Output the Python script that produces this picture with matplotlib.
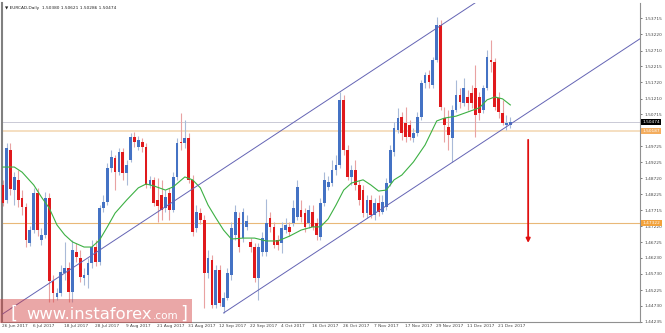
import numpy as np
import matplotlib
matplotlib.use('Agg')
import matplotlib.pyplot as plt
import matplotlib.transforms as mtransforms
from matplotlib.patches import Rectangle

# EURCAD daily candles, 26 Jun 2017 .. late Dec 2017
opens = [1.4851, 1.4804, 1.4960, 1.4835, 1.4867, 1.4810, 1.4782, 1.4670, 1.4710, 1.4826,
         1.4679, 1.4695, 1.4810, 1.4551, 1.4501, 1.4513, 1.4576, 1.4592, 1.4516, 1.4641,
         1.4623, 1.4560, 1.4570, 1.4607, 1.4657, 1.4610, 1.4779, 1.4798, 1.4904, 1.4935,
         1.4891, 1.4954, 1.4888, 1.4929, 1.5001, 1.4970, 1.4985, 1.4970, 1.4851, 1.4867,
         1.4804, 1.4820, 1.4779, 1.4826, 1.4773, 1.4876, 1.4985, 1.4982, 1.4998, 1.4867,
         1.4717, 1.4763, 1.4742, 1.4576, 1.4617, 1.4476, 1.4585, 1.4470, 1.4498, 1.4570,
         1.4695, 1.4748, 1.4685, 1.4720, 1.4673, 1.4657, 1.4560, 1.4641, 1.4641, 1.4748,
         1.4720, 1.4679, 1.4670, 1.4710, 1.4720, 1.4732, 1.4751, 1.4773, 1.4763, 1.4732,
         1.4766, 1.4732, 1.4688, 1.4795, 1.4845, 1.4857, 1.4898, 1.4913, 1.5117, 1.4960,
         1.4876, 1.4898, 1.4851, 1.4835, 1.4763, 1.4804, 1.4757, 1.4795, 1.4766, 1.4782,
         1.4857, 1.4954, 1.5023, 1.5063, 1.5045, 1.5038, 1.4998, 1.5013, 1.5063, 1.5170,
         1.5195, 1.5163, 1.5241, 1.5351, 1.5060, 1.5032, 1.4998, 1.5085, 1.5132, 1.5107,
         1.5126, 1.5138, 1.5154, 1.5126, 1.5085, 1.5154, 1.5241, 1.5235, 1.5123, 1.5076,
         1.5038, 1.50380]
highs = [1.4867, 1.4982, 1.4982, 1.4891, 1.4898, 1.4835, 1.4795, 1.4723, 1.4842, 1.4842,
         1.4717, 1.4829, 1.4826, 1.4570, 1.4529, 1.4601, 1.4673, 1.4610, 1.4679, 1.4670,
         1.4648, 1.4592, 1.4623, 1.4679, 1.4679, 1.4788, 1.4820, 1.4920, 1.4960, 1.4945,
         1.4967, 1.4967, 1.4929, 1.5013, 1.5016, 1.5004, 1.4998, 1.4982, 1.4879, 1.4876,
         1.4873, 1.4867, 1.4835, 1.4842, 1.4891, 1.4998, 1.5076, 1.5054, 1.5013, 1.4882,
         1.4788, 1.4779, 1.4757, 1.4648, 1.4632, 1.4601, 1.4601, 1.4516, 1.4592, 1.4735,
         1.4788, 1.4766, 1.4779, 1.4757, 1.4685, 1.4670, 1.4670, 1.4704, 1.4807, 1.4766,
         1.4735, 1.4695, 1.4735, 1.4748, 1.4735, 1.4804, 1.4867, 1.4804, 1.4779, 1.4788,
         1.4788, 1.4748, 1.4810, 1.4891, 1.4879, 1.4929, 1.4945, 1.5142, 1.5132, 1.4976,
         1.4913, 1.4929, 1.4867, 1.4851, 1.4820, 1.4820, 1.4810, 1.4820, 1.4820, 1.4873,
         1.4976, 1.5048, 1.5092, 1.5079, 1.5095, 1.5054, 1.5029, 1.5079, 1.5179, 1.5204,
         1.5210, 1.5251, 1.5376, 1.5367, 1.5095, 1.5085, 1.5101, 1.5179, 1.5154, 1.5185,
         1.5148, 1.5163, 1.5226, 1.5142, 1.5163, 1.5273, 1.5304, 1.5248, 1.5142, 1.5117,
         1.5070, 1.50621]
lows = [1.4785, 1.4795, 1.4820, 1.4788, 1.4782, 1.4757, 1.4657, 1.4660, 1.4701, 1.4691,
        1.4663, 1.4685, 1.4485, 1.4485, 1.4492, 1.4504, 1.4554, 1.4485, 1.4485, 1.4610,
        1.4548, 1.4538, 1.4529, 1.4592, 1.4598, 1.4601, 1.4766, 1.4788, 1.4891, 1.4835,
        1.4882, 1.4867, 1.4851, 1.4923, 1.4970, 1.4960, 1.4954, 1.4842, 1.4842, 1.4785,
        1.4735, 1.4742, 1.4766, 1.4742, 1.4766, 1.4867, 1.4960, 1.4967, 1.4857, 1.4691,
        1.4704, 1.4729, 1.4467, 1.4560, 1.4467, 1.4467, 1.4473, 1.4451, 1.4492, 1.4554,
        1.4679, 1.4641, 1.4673, 1.4710, 1.4641, 1.4548, 1.4492, 1.4629, 1.4629, 1.4704,
        1.4654, 1.4648, 1.4638, 1.4701, 1.4691, 1.4723, 1.4742, 1.4735, 1.4704, 1.4717,
        1.4710, 1.4679, 1.4679, 1.4785, 1.4835, 1.4848, 1.4882, 1.4904, 1.4945, 1.4867,
        1.4851, 1.4835, 1.4788, 1.4751, 1.4748, 1.4748, 1.4742, 1.4754, 1.4760, 1.4773,
        1.4848, 1.4942, 1.5013, 1.4992, 1.4985, 1.4992, 1.4985, 1.5004, 1.5054, 1.5154,
        1.5154, 1.5154, 1.5235, 1.5085, 1.4985, 1.4960, 1.4923, 1.5079, 1.5092, 1.5098,
        1.5085, 1.5092, 1.5001, 1.5054, 1.5076, 1.5148, 1.5204, 1.5085, 1.5060, 1.5038,
        1.5023, 1.50286]
closes = [1.4795, 1.4967, 1.4838, 1.4876, 1.4804, 1.4782, 1.4679, 1.4710, 1.4826, 1.4710,
          1.4695, 1.4810, 1.4551, 1.4513, 1.4513, 1.4579, 1.4592, 1.4516, 1.4648, 1.4626,
          1.4563, 1.4570, 1.4607, 1.4657, 1.4610, 1.4779, 1.4798, 1.4904, 1.4938, 1.4891,
          1.4954, 1.4888, 1.4913, 1.5001, 1.4985, 1.4992, 1.4970, 1.4851, 1.4867, 1.4795,
          1.4785, 1.4773, 1.4813, 1.4773, 1.4876, 1.4982, 1.4982, 1.4998, 1.4867, 1.4704,
          1.4766, 1.4742, 1.4576, 1.4623, 1.4476, 1.4585, 1.4482, 1.4498, 1.4576, 1.4717,
          1.4766, 1.4657, 1.4766, 1.4738, 1.4657, 1.4560, 1.4657, 1.4685, 1.4732, 1.4720,
          1.4663, 1.4663, 1.4717, 1.4726, 1.4704, 1.4779, 1.4845, 1.4751, 1.4720, 1.4773,
          1.4720, 1.4695, 1.4795, 1.4867, 1.4860, 1.4898, 1.4913, 1.5117, 1.4960, 1.4876,
          1.4898, 1.4851, 1.4804, 1.4763, 1.4804, 1.4757, 1.4795, 1.4766, 1.4798, 1.4857,
          1.4960, 1.5029, 1.5060, 1.5013, 1.5001, 1.5001, 1.5013, 1.5063, 1.5170, 1.5195,
          1.5173, 1.5241, 1.5351, 1.5095, 1.5038, 1.5007, 1.5085, 1.5132, 1.5110, 1.5154,
          1.5107, 1.5107, 1.5070, 1.5076, 1.5154, 1.5251, 1.5235, 1.5095, 1.5079, 1.5045,
          1.5045, 1.50474]

# green moving average, read at a handful of bars
ma_idx = [0, 3, 5, 8, 10, 12, 14, 16, 18, 21, 23, 25, 27, 29, 32, 35, 37, 39, 42, 44,
          47, 49, 51, 53, 55, 57, 59, 62, 65, 68, 71, 74, 77, 80, 82, 84, 86, 88, 90, 93,
          95, 97, 99, 101, 103, 106, 109, 112, 114, 117, 120, 123, 125, 127, 129, 131]
ma_vals = [1.4907, 1.4907, 1.4891, 1.4851, 1.4813, 1.4779, 1.4726, 1.4695, 1.4673, 1.4657,
           1.4657, 1.4679, 1.4720, 1.4763, 1.4804, 1.4842, 1.4854, 1.4848, 1.4835, 1.4845,
           1.4876, 1.4867, 1.4842, 1.4788, 1.4748, 1.4710, 1.4682, 1.4685, 1.4685, 1.4676,
           1.4676, 1.4691, 1.4710, 1.4720, 1.4720, 1.4745, 1.4788, 1.4835, 1.4857, 1.4867,
           1.4851, 1.4832, 1.4835, 1.4867, 1.4882, 1.4923, 1.4976, 1.5051, 1.5060, 1.5066,
           1.5079, 1.5092, 1.5117, 1.5126, 1.5120, 1.5101]

date_labels = ['26 Jun 2017', '6 Jul 2017', '18 Jul 2017', '28 Jul 2017', '9 Aug 2017',
               '21 Aug 2017', '31 Aug 2017', '12 Sep 2017', '22 Sep 2017', '4 Oct 2017',
               '16 Oct 2017', '26 Oct 2017', '7 Nov 2017', '17 Nov 2017', '29 Nov 2017',
               '11 Dec 2017', '21 Dec 2017']
date_idx = list(range(0, 8 * len(date_labels), 8))

price_ticks = [1.53715, 1.53220, 1.52710, 1.52215, 1.51720, 1.51210, 1.50715, 1.49725,
               1.49225, 1.48720, 1.48225, 1.47715, 1.47220, 1.46725, 1.46230, 1.45730,
               1.45225, 1.44730, 1.44235]

support_level = 1.50187
target_level = 1.47322
last_price = 1.50474

# channel anchor points (bar index, price)
upper_channel = [(0, 1.4448), (112, 1.5341)]
lower_channel = [(57, 1.4451), (170, 1.5352)]

arrow_bar = 135.6
arrow_from = 1.4992
arrow_to = 1.4670

title = u'\u25bc EURCAD,Daily  1.50380 1.50621 1.50286 1.50474'


def main():
    W, H = 665, 333
    fig = plt.figure(figsize=(W / 100, H / 100), dpi=100)
    fig.patch.set_facecolor('white')
    ax = fig.add_axes([2 / W, 11 / H, 638 / W, 319 / H])

    o = np.array(opens)
    h = np.array(highs)
    l = np.array(lows)
    c = np.array(closes)
    x = np.arange(len(o))
    up = c >= o

    # wicks then bodies
    ax.vlines(x[up], l[up], h[up], color='#a9bad8', lw=0.8, zorder=2)
    ax.vlines(x[~up], l[~up], h[~up], color='#e9a2a2', lw=0.8, zorder=2)
    body = np.maximum(np.abs(c - o), 0.00025)
    ax.bar(x[up], body[up], bottom=o[up], width=0.72, color='#4472c4', lw=0, zorder=3)
    ax.bar(x[~up], body[~up], bottom=c[~up], width=0.72, color='#e0191c', lw=0, zorder=3)

    ax.plot(ma_idx, ma_vals, color='#3cb043', lw=0.8, zorder=4)

    # levels
    ax.axhline(support_level, color='#f4dcbc', lw=1.3, zorder=1)
    ax.axhline(target_level, color='#e9b878', lw=0.8, zorder=1)
    ax.axhline(last_price, color='#cacad6', lw=0.7, zorder=1)

    # channel
    ax.axline(upper_channel[0], upper_channel[1], color='#6464b4', lw=0.7, zorder=4)
    ax.plot([p[0] for p in lower_channel], [p[1] for p in lower_channel],
            color='#6464b4', lw=0.7, zorder=4)

    ax.annotate('', xy=(arrow_bar, arrow_to), xytext=(arrow_bar, arrow_from),
                arrowprops=dict(arrowstyle='-|>', color='#e01010', lw=1.3,
                                mutation_scale=6, shrinkA=0, shrinkB=0), zorder=5)

    ax.set_xlim(-0.18, 164.46)
    ax.set_ylim(1.442275, 1.54196)

    # right price scale
    ax.yaxis.tick_right()
    ax.set_yticks(price_ticks)
    ax.set_yticklabels(['%.5f' % v for v in price_ticks])
    ax.tick_params(axis='y', labelsize=3.1, length=1.5, width=0.5, pad=1.5,
                   colors='#444444')
    ax.set_xticks([])

    ax.spines['top'].set_visible(False)
    ax.spines['left'].set_color('#808080')
    ax.spines['left'].set_linewidth(1.5)
    ax.spines['right'].set_color('#909090')
    ax.spines['right'].set_linewidth(0.8)
    ax.spines['bottom'].set_color('#909090')
    ax.spines['bottom'].set_linewidth(0.8)

    tr = mtransforms.blended_transform_factory(ax.transAxes, ax.transData)
    ax.text(1.004, last_price, '%.5f' % last_price, transform=tr, fontsize=3.1,
            color='white', va='center', ha='left', clip_on=False, zorder=6,
            bbox=dict(boxstyle='square,pad=0.25', fc='black', ec='none'))
    for lvl, col in [(support_level, '#f4ad5e'), (target_level, '#f2a23c')]:
        ax.text(1.004, lvl, '%.5f' % lvl, transform=tr, fontsize=3.1,
                color='white', va='center', ha='left', clip_on=False, zorder=6,
                bbox=dict(boxstyle='square,pad=0.25', fc=col, ec='none'))

    # date labels under the chart
    trx = mtransforms.blended_transform_factory(ax.transData, ax.transAxes)
    for i, lab in zip(date_idx, date_labels):
        ax.text(i - 0.2, -0.013, lab, transform=trx, fontsize=3.1, color='#444444',
                ha='left', va='center', clip_on=False)

    ax.text(0.005, 0.985, title, transform=ax.transAxes, fontsize=3.1,
            color='#222222', ha='left', va='center')

    # watermark
    fig.add_artist(Rectangle((0, 10 / H), 192 / W, 24 / H, transform=fig.transFigure,
                             fc='#d23c3c', ec='none', alpha=0.45, zorder=10))
    fig.text(11 / W, 14 / H, '[', fontsize=13, color='white', zorder=11,
             va='baseline', ha='left')
    fig.text(26 / W, 14 / H, 'www.instaforex', fontsize=11.8, color='white', zorder=11,
             va='baseline', ha='left')
    fig.text(153 / W, 14 / H, '.com', fontsize=7.5, color='white', zorder=11,
             va='baseline', ha='left')
    fig.text(180 / W, 14 / H, ']', fontsize=13, color='white', zorder=11,
             va='baseline', ha='left')

    fig.savefig('out.png', dpi=100, facecolor='white')
    plt.close(fig)


if __name__ == '__main__':
    main()
